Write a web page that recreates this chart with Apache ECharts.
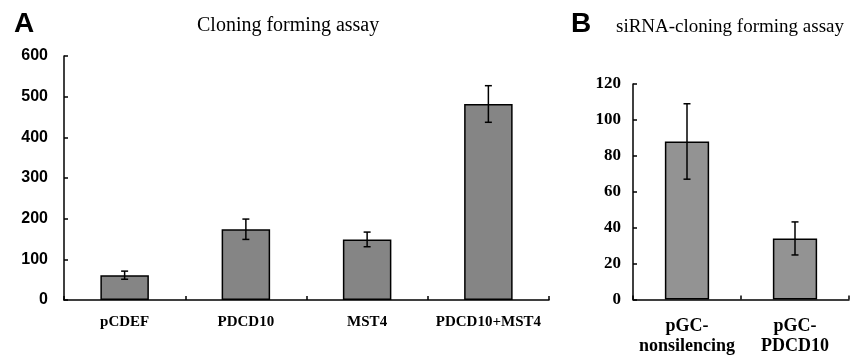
<!DOCTYPE html>
<html>
<head>
<meta charset="utf-8">
<script src="https://cdn.jsdelivr.net/npm/echarts@6/dist/echarts.min.js"></script>
<style>
html,body{margin:0;padding:0;background:#fff;}
#c{width:858px;height:358px;}
</style>
</head>
<body>
<div id="c"></div>
<script>
// Panel A data
const categoriesA = ['pCDEF', 'PDCD10', 'MST4', 'PDCD10+MST4'];
const valuesA = [61, 174, 149, 482];
const errorsA = [10, 25, 18, 45];
const ticksA = [0, 100, 200, 300, 400, 500, 600];

// Panel B data
const categoriesB = ['pGC-\nnonsilencing', 'pGC-\nPDCD10'];
const valuesB = [88, 34];
const errorsB = [21, 9.2];
const ticksB = [0, 20, 40, 60, 80, 100, 120];

const SERIF = "'Liberation Serif','Times New Roman',serif";
const SANS = "'Liberation Sans',Arial,sans-serif";

function errData(vals, errs) {
  return vals.map((v, i) => [i, v - errs[i], v + errs[i]]);
}
function errRender(params, api) {
  const x = api.value(0);
  const lo = api.coord([x, api.value(1)]);
  const hi = api.coord([x, api.value(2)]);
  const w = 3.5;
  const st = { stroke: '#000', lineWidth: 1.5 };
  return {
    type: 'group',
    children: [
      { type: 'line', shape: { x1: lo[0], y1: lo[1], x2: hi[0], y2: hi[1] }, style: st },
      { type: 'line', shape: { x1: hi[0] - w, y1: hi[1], x2: hi[0] + w, y2: hi[1] }, style: st },
      { type: 'line', shape: { x1: lo[0] - w, y1: lo[1], x2: lo[0] + w, y2: lo[1] }, style: st }
    ]
  };
}

const axisLine = { show: true, lineStyle: { color: '#000', width: 1.5 } };

const chart = echarts.init(document.getElementById('c'), null, { renderer: 'canvas' });
chart.setOption({
  animation: false,
  backgroundColor: '#fff',
  title: [
    { text: 'A', left: 9, top: 5, textStyle: { fontFamily: SANS, fontWeight: 'bold', fontSize: 28, color: '#000' } },
    { text: 'Cloning forming assay', left: 192, top: 11, textStyle: { fontFamily: SERIF, fontWeight: 'normal', fontSize: 20, color: '#000' } },
    { text: 'B', left: 566, top: 5, textStyle: { fontFamily: SANS, fontWeight: 'bold', fontSize: 28, color: '#000' } },
    { text: 'siRNA-cloning forming assay', left: 611, top: 13, textStyle: { fontFamily: SERIF, fontWeight: 'normal', fontSize: 19, color: '#000' } }
  ],
  grid: [
    { left: 64, top: 56, width: 485, height: 244, containLabel: false, outerBoundsMode: 'none' },
    { left: 633, top: 84, width: 216, height: 215.5, containLabel: false, outerBoundsMode: 'none' }
  ],
  xAxis: [
    {
      type: 'category', gridIndex: 0, data: categoriesA, boundaryGap: true,
      axisLine: axisLine,
      axisTick: { show: true, inside: true, length: 4, lineStyle: { color: '#000', width: 1.5 } },
      axisLabel: { fontFamily: SERIF, fontWeight: 'bold', fontSize: 15, color: '#000', margin: 15, interval: 0 }
    },
    {
      type: 'category', gridIndex: 1, data: categoriesB, boundaryGap: true,
      axisLine: axisLine,
      axisTick: { show: true, inside: true, length: 4, lineStyle: { color: '#000', width: 1.5 } },
      axisLabel: { fontFamily: SERIF, fontWeight: 'bold', fontSize: 18, lineHeight: 20, color: '#000', margin: 17, interval: 0 }
    }
  ],
  yAxis: [
    {
      type: 'value', gridIndex: 0, min: ticksA[0], max: ticksA[ticksA.length - 1], interval: ticksA[1] - ticksA[0],
      axisLine: axisLine,
      axisTick: { show: true, inside: true, length: 4, lineStyle: { color: '#000', width: 1.5 } },
      splitLine: { show: false },
      axisLabel: { fontFamily: SANS, fontWeight: 'bold', fontSize: 16, color: '#000', margin: 16 }
    },
    {
      type: 'value', gridIndex: 1, min: ticksB[0], max: ticksB[ticksB.length - 1], interval: ticksB[1] - ticksB[0],
      axisLine: axisLine,
      axisTick: { show: true, inside: true, length: 4, lineStyle: { color: '#000', width: 1.5 } },
      splitLine: { show: false },
      axisLabel: { fontFamily: SERIF, fontWeight: 'bold', fontSize: 17, color: '#000', margin: 12 }
    }
  ],
  series: [
    {
      type: 'bar', xAxisIndex: 0, yAxisIndex: 0, data: valuesA, barWidth: '40%',
      itemStyle: { color: '#858585', borderColor: '#000', borderWidth: 1.5 }
    },
    {
      type: 'custom', xAxisIndex: 0, yAxisIndex: 0, data: errData(valuesA, errorsA),
      renderItem: errRender, z: 10
    },
    {
      type: 'bar', xAxisIndex: 1, yAxisIndex: 1, data: valuesB, barWidth: '41%',
      itemStyle: { color: '#939393', borderColor: '#000', borderWidth: 1.5 }
    },
    {
      type: 'custom', xAxisIndex: 1, yAxisIndex: 1, data: errData(valuesB, errorsB),
      renderItem: errRender, z: 10
    }
  ]
});
</script>
</body>
</html>
